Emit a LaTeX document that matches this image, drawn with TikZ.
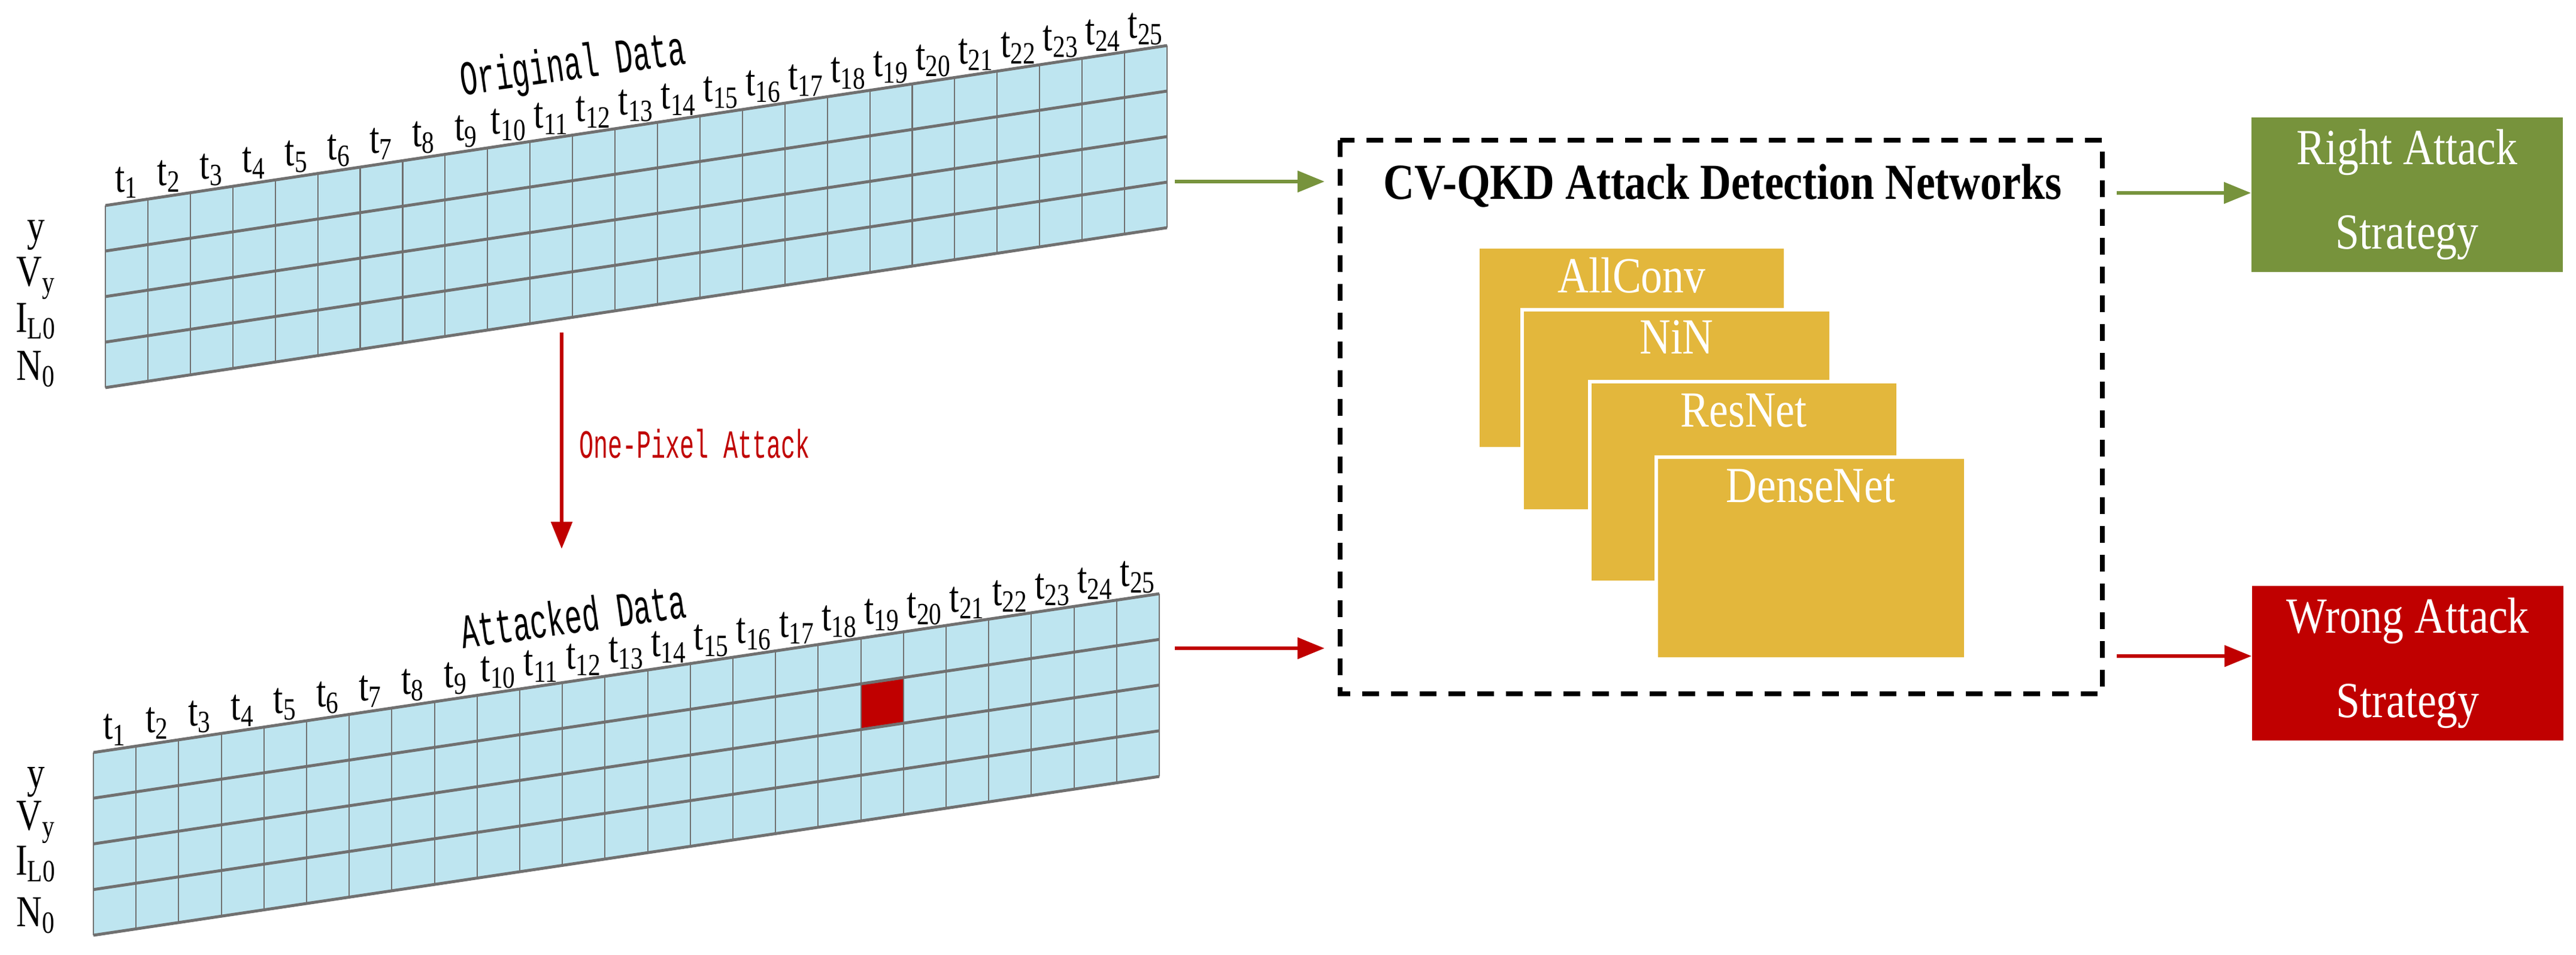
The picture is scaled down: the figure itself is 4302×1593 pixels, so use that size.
\documentclass[tikz,border=0pt]{standalone}
\usepackage{fontspec}
\usetikzlibrary{arrows.meta}
\setmainfont{Liberation Serif}
\newfontfamily\cond{Liberation Serif}[FakeStretch=0.85]
\newfontfamily\tcond{Liberation Serif}[FakeStretch=0.8]
\newfontfamily\monoc{Liberation Mono}[FakeStretch=0.6]
\definecolor{cell}{HTML}{BEE5F0}
\definecolor{gridc}{HTML}{707070}
\definecolor{gold}{HTML}{E3B73C}
\definecolor{okgreen}{HTML}{77933C}
\definecolor{badred}{HTML}{C00000}
\begin{document}
\begin{tikzpicture}[x=0.01cm,y=-0.01cm,
  net/.style={fill=gold,draw=white,line width=1.5pt},
  netlab/.style={text=white,font=\cond\fontsize{24}{28}\selectfont},
  res/.style={minimum width=5.2cm,minimum height=2.57cm,text=white,align=center,font=\cond\fontsize{24}{40}\selectfont,inner sep=0pt},
  arr/.style={-{Triangle[length=0.45cm,width=0.35cm]},line width=1.6pt},
  rowlab/.style={font=\tcond\fontsize{21}{24}\selectfont},
  tlab/.style={anchor=south,inner sep=0pt,font=\tcond\fontsize{21}{24}\selectfont}]
\useasboundingbox (0,0) rectangle (4302,1593);
% ---------- top grid ----------
\fill[cell] (176,343) -- (1949,76) -- (1949,379) -- (176,647) -- cycle;
\foreach \i in {0,...,25}{
  \pgfmathsetmacro\x{176+\i*70.92}\pgfmathsetmacro\y{343-\i*10.68}
  \draw[gridc,line width=0.6pt] (\x,\y) -- (\x,\y+304);}
\foreach \j in {0,...,4}{
  \draw[gridc,line width=1.4pt] (176,343+\j*76) -- (1949,76+\j*76);}
\foreach \i in {1,...,25}{
  \pgfmathsetmacro\x{176+(\i-0.5)*70.92}\pgfmathsetmacro\y{343-(\i-0.5)*10.68-6}
  \node[tlab] (ta\i) at (\x,\y) {t\textsubscript{\i}};}
\node[rowlab] (ra1) at (60,393) {y};
\node[rowlab] (ra2) at (60,464) {V\textsubscript{y}};
\node[rowlab] (ra3) at (60,536) {I\textsubscript{L0}};
\node[rowlab] (ra4) at (60,616) {N\textsubscript{0}};
\node[rotate=8,font=\monoc\fontsize{23}{26}\selectfont] (od) at (957,112) {Original Data};
\coordinate (topR) at (1962,303);
% ---------- bottom grid ----------
\fill[cell] (156,1256) -- (1936,991) -- (1936,1296) -- (156,1561) -- cycle;
\fill[badred] (156+18*71.2,1256-18*10.6+76.25) -- (156+19*71.2,1256-19*10.6+76.25)
  -- (156+19*71.2,1256-19*10.6+152.5) -- (156+18*71.2,1256-18*10.6+152.5) -- cycle;
\foreach \i in {0,...,25}{
  \pgfmathsetmacro\x{156+\i*71.2}\pgfmathsetmacro\y{1256-\i*10.6}
  \draw[gridc,line width=0.6pt] (\x,\y) -- (\x,\y+305);}
\foreach \j in {0,...,4}{
  \draw[gridc,line width=1.4pt] (156,1256+\j*76.25) -- (1936,991+\j*76.25);}
\foreach \i in {1,...,25}{
  \pgfmathsetmacro\x{156+(\i-0.5)*71.2}\pgfmathsetmacro\y{1256-(\i-0.5)*10.6-6}
  \node[tlab] (tb\i) at (\x,\y) {t\textsubscript{\i}};}
\node[rowlab] (rb1) at (60,1305) {y};
\node[rowlab] (rb2) at (60,1372) {V\textsubscript{y}};
\node[rowlab] (rb3) at (60,1442) {I\textsubscript{L0}};
\node[rowlab] (rb4) at (60,1528) {N\textsubscript{0}};
\node[rotate=8,font=\monoc\fontsize{23}{26}\selectfont] (ad) at (957,1028) {Attacked Data};
\coordinate (botR) at (1962,1082);
% ---------- attack arrow ----------
\coordinate (atkS) at (938,555);
\coordinate (atkE) at (938,916);
\draw[arr,badred] (atkS) -- (atkE);
\node[text=badred,font=\monoc\fontsize{19}{22}\selectfont] (opa) at (1160,741) {One-Pixel Attack};
% ---------- detection networks ----------
\draw[dash pattern=on 0.28cm off 0.2cm,line width=2.2pt] (2238,234) rectangle (3511,1158);
\node[font=\cond\bfseries\fontsize{24}{28}\selectfont] (title) at (2877,310) {CV-QKD Attack Detection Networks};
\coordinate (boxL1) at (2212,303);
\coordinate (boxL2) at (2212,1082);
\coordinate (boxR1) at (3535,322);
\coordinate (boxR2) at (3535,1095);
\draw[net] (2468,412) rectangle (2982,749);
\node[netlab] (n1) at (2725,460) {AllConv};
\draw[net] (2542,517) rectangle (3058,853);
\node[netlab] (n2) at (2800,563) {NiN};
\draw[net] (2655,637) rectangle (3170,972);
\node[netlab] (n3) at (2912,685) {ResNet};
\draw[net] (2766,763) rectangle (3283,1100);
\node[netlab] (n4) at (3024,811) {DenseNet};
% ---------- results ----------
\node[res,fill=okgreen] (right) at (4020,325) {Right Attack\\Strategy};
\node[res,fill=badred] (wrong) at (4021,1107) {Wrong Attack\\Strategy};
\draw[arr,okgreen] (topR) -- (boxL1);
\draw[arr,badred] (botR) -- (boxL2);
\draw[arr,okgreen] (boxR1) -- (boxR1 -| right.west);
\draw[arr,badred] (boxR2) -- (boxR2 -| wrong.west);
\end{tikzpicture}
\end{document}
